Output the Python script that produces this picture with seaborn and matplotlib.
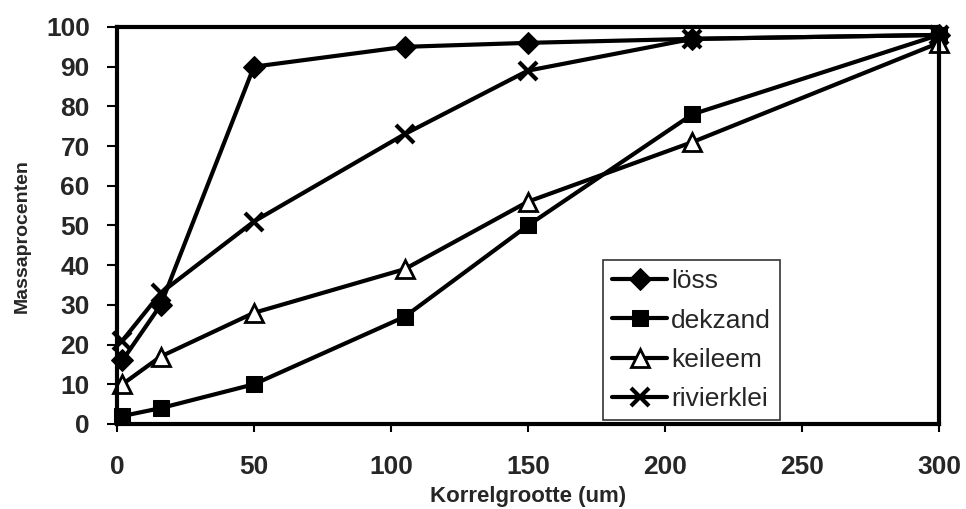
import matplotlib
matplotlib.use("Agg")
import matplotlib.pyplot as plt
import seaborn as sns
import pandas as pd

korrelgrootte = [2, 16, 50, 105, 150, 210, 300]
loss = [16, 30, 90, 95, 96, 97, 98]
dekzand = [2, 4, 10, 27, 50, 78, 98]
keileem = [10, 17, 28, 39, 56, 71, 96]
rivierklei = [21, 33, 51, 73, 89, 97, 98]
series_names = ["löss", "dekzand", "keileem", "rivierklei"]
x_ticks = [0, 50, 100, 150, 200, 250, 300]
y_ticks = list(range(0, 101, 10))

sns.set_theme(style="white")
plt.rcParams['font.family'] = ['Liberation Sans', 'DejaVu Sans']

fig = plt.figure(figsize=(9.66, 5.09), dpi=100)
ax = fig.add_axes([0.121, 0.167, 0.851, 0.780])

styles = {
    "löss": dict(marker="D", markersize=11, markerfacecolor="black"),
    "dekzand": dict(marker="s", markersize=12, markerfacecolor="black"),
    "keileem": dict(marker="^", markersize=13, markerfacecolor="white", markeredgewidth=2),
    "rivierklei": dict(marker="x", markersize=13, markeredgewidth=3),
}
values = [loss, dekzand, keileem, rivierklei]
for name, vals in zip(series_names, values):
    df = pd.DataFrame({"x": korrelgrootte, "y": vals})
    sns.lineplot(data=df, x="x", y="y", ax=ax, color="black", linewidth=3,
                 markeredgecolor="black", label=name, clip_on=False, **styles[name])

ax.set_xlim(0, 300)
ax.set_ylim(0, 100)
ax.set_xticks(x_ticks)
ax.set_yticks(y_ticks)
ax.tick_params(axis="both", labelsize=19, width=1.5, color="black",
               direction="out", bottom=True, left=True)
ax.tick_params(axis="x", length=6, pad=16)
ax.tick_params(axis="y", length=7, pad=12.5)
for lab in ax.get_xticklabels() + ax.get_yticklabels():
    lab.set_fontweight("bold")
for s in ax.spines.values():
    s.set_linewidth(3)
    s.set_color("black")
ax.set_xlabel("Korrelgrootte (um)", fontsize=16, fontweight="bold")
ax.set_ylabel("Massaprocenten", fontsize=14, fontweight="bold")
ax.xaxis.set_label_coords(0.5, -0.155)
ax.yaxis.set_label_coords(-0.105, 0.474)

leg = ax.legend(loc="upper left", bbox_to_anchor=(0.591, 0.413), fontsize=19,
                frameon=True, fancybox=False, edgecolor="black", handlelength=2.1,
                labelspacing=0.58, borderpad=0.35, handletextpad=0.15,
                borderaxespad=0)
leg.get_frame().set_linewidth(1.2)

fig.savefig("out.png", dpi=100)
